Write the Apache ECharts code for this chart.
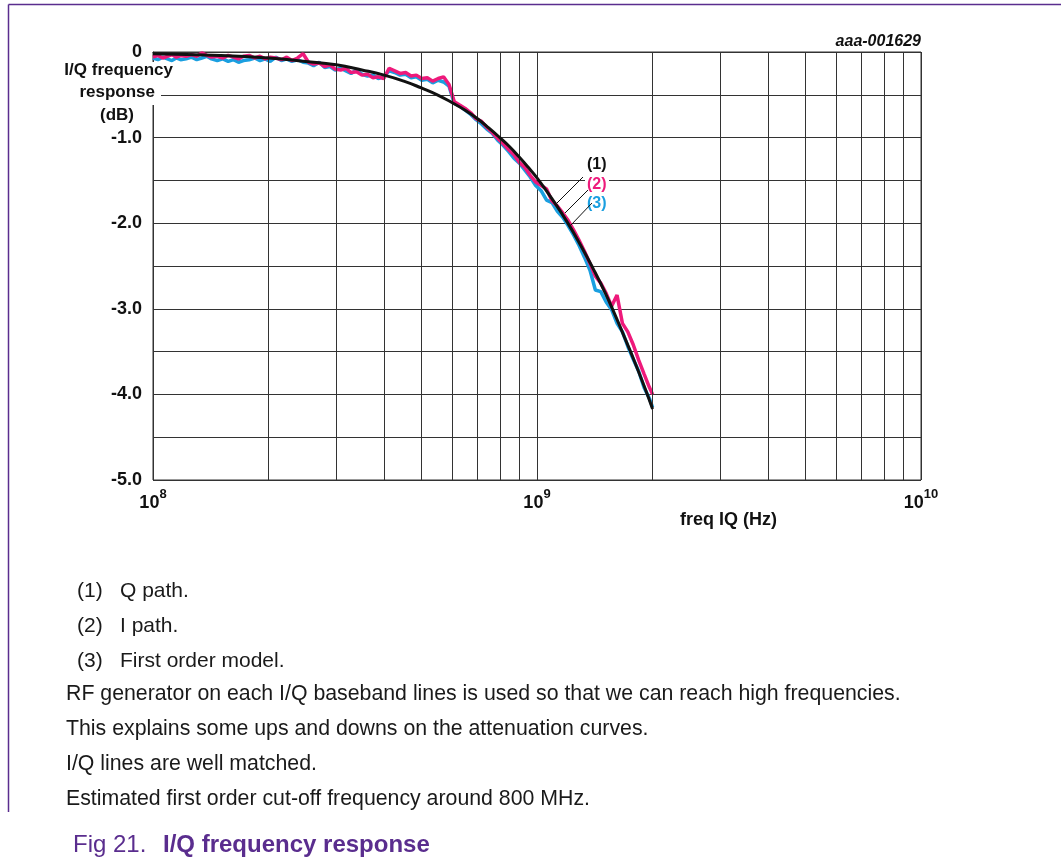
<!DOCTYPE html>
<html><head><meta charset="utf-8">
<script src="https://cdn.jsdelivr.net/npm/echarts@6/dist/echarts.min.js"></script>
<style>html,body{margin:0;padding:0;background:#fff}#c{width:1061px;height:864px}</style>
</head><body><div id="c"></div>
<script>
// measured traces: frequency (MHz) shared by both noisy traces
const freqMHz = [100,103,106,109,112,115,118, 122,126,130,134,138,142, 147,152,157,162,167,172, 178,184,190,196,202,
  209,216,223,230,238,246, 254,262,271,280,289,298, 308,318,328,339,350,362,374,386,399,
  412,426,440,455,470,485,501,518,535,553,571,590,
  609,629,650,672,694,717,740,765,790,816,843,871,900,930,960,992,1025,1059,1094,1130,1167,1206,1246,1287,1330,1374,1419,1466,1514,1564,1616,1669,1724,1781,1840,1900,1963,2000];
const pinkDb = [-0.06,-0.04,-0.07,-0.05,-0.03,-0.06,-0.04, -0.05,-0.03,-0.05,-0.01,-0.04,-0.06, -0.05,-0.07,-0.04,-0.06,-0.08,-0.05,
  -0.04,-0.07,-0.05,-0.08,-0.06, -0.07,-0.09,-0.06,-0.10,-0.07,-0.02, -0.12,-0.14,-0.13,-0.17,-0.15,-0.20,
  -0.21,-0.19,-0.24,-0.23,-0.27,-0.26,-0.30,-0.29,-0.31,
  -0.19,-0.22,-0.25,-0.24,-0.28,-0.27,-0.31,-0.30,-0.34,-0.31,-0.29,-0.38,
  -0.58,-0.62,-0.66,-0.71,-0.78,-0.81,-0.88,-0.94,-1.01,-1.07,-1.14,-1.20,-1.29,-1.35,-1.44,-1.52,-1.56,-1.60,-1.74,-1.80,-1.88,-1.97,-2.08,-2.20,-2.33,-2.47,-2.62,-2.70,-2.82,-2.97,-2.84,-3.17,-3.27,-3.42,-3.60,-3.76,-3.92,-4.00];
const blueDb = [-0.07,-0.09,-0.06,-0.08,-0.10,-0.07,-0.09, -0.08,-0.06,-0.09,-0.07,-0.05,-0.08, -0.10,-0.08,-0.11,-0.09,-0.12,-0.10,
  -0.09,-0.07,-0.10,-0.08,-0.11, -0.06,-0.10,-0.08,-0.11,-0.09,-0.12, -0.13,-0.16,-0.12,-0.18,-0.17,-0.21,
  -0.19,-0.22,-0.25,-0.21,-0.26,-0.28,-0.27,-0.31,-0.29,
  -0.22,-0.24,-0.27,-0.26,-0.30,-0.29,-0.33,-0.32,-0.36,-0.33,-0.35,-0.40,
  -0.60,-0.63,-0.68,-0.73,-0.79,-0.84,-0.90,-0.95,-1.03,-1.09,-1.16,-1.24,-1.30,-1.38,-1.46,-1.56,-1.62,-1.73,-1.76,-1.86,-1.93,-2.03,-2.14,-2.26,-2.40,-2.55,-2.78,-2.80,-2.92,-3.01,-3.17,-3.27,-3.44,-3.59,-3.73,-3.92,-4.05,-4.15];
// smooth trace
const smoothFreqMHz = [100,150,200,250,300,350,400,450,500,550,600,650,700,750,800,850,900,950,1000,1100,1200,1300,1400,1500,1600,1700,1800,1900,2000];
const smoothDb = [-0.02,-0.04,-0.07,-0.11,-0.15,-0.21,-0.27,-0.34,-0.42,-0.50,-0.59,-0.68,-0.78,-0.89,-1.00,-1.11,-1.23,-1.35,-1.47,-1.73,-1.99,-2.26,-2.53,-2.80,-3.08,-3.36,-3.63,-3.90,-4.17];
// vertical grid lines between decades (MHz)
const minorGridMHz = [200,300,400,500,600,700,800,900,2000,3000,4000,5000,6000,7000,8000,9000];
const labelTexts = ['(1)','(2)','(3)'];
const notes = ['Q path.','I path.','First order model.'];
const paragraphs = ['RF generator on each I/Q baseband lines is used so that we can reach high frequencies.',
  'This explains some ups and downs on the attenuation curves.',
  'I/Q lines are well matched.',
  'Estimated first order cut-off frequency around 800 MHz.'];

const FF = '"Liberation Sans", Arial, Helvetica, sans-serif';
const toHz = m => m * 1e6;
const pinkData = freqMHz.map((f,i)=>[toHz(f), pinkDb[i]]);
const blueData = freqMHz.map((f,i)=>[toHz(f), blueDb[i]]);
const smoothData = smoothFreqMHz.map((f,i)=>[toHz(f), smoothDb[i]]);

const PINK = '#ee1a7b', BLUE = '#1a9fe0', PURPLE = '#5a2d8e';
const chart = echarts.init(document.getElementById('c'), null, {renderer:'canvas'});

const g = [];
// frame
g.push({type:'line', shape:{x1:8.5,y1:4.5,x2:1061,y2:4.5}, style:{stroke:PURPLE, lineWidth:1.5}});
g.push({type:'line', shape:{x1:8.5,y1:4.5,x2:8.5,y2:812}, style:{stroke:PURPLE, lineWidth:1.5}});
// white mask behind y-axis title
g.push({type:'rect', z:1, shape:{x:60,y:62,width:116,height:19}, style:{fill:'#fff'}});
g.push({type:'rect', z:1, shape:{x:76,y:81,width:85,height:24}, style:{fill:'#fff'}});
g.push({type:'text', z:5, style:{text:'I/Q frequency', x:173, y:70, align:'right', verticalAlign:'middle', font:'bold 17px '+FF, fill:'#111'}});
g.push({type:'text', z:5, style:{text:'response', x:155, y:92, align:'right', verticalAlign:'middle', font:'bold 17px '+FF, fill:'#111'}});
g.push({type:'text', z:5, style:{text:'(dB)', x:117, y:115, align:'center', verticalAlign:'middle', font:'bold 17px '+FF, fill:'#111'}});
g.push({type:'text', z:5, style:{text:'aaa-001629', x:921, y:42, align:'right', verticalAlign:'middle', font:'italic bold 16px '+FF, fill:'#111'}});
g.push({type:'text', z:5, style:{text:'freq IQ (Hz)', x:680, y:520, align:'left', verticalAlign:'middle', font:'bold 18px '+FF, fill:'#111'}});
// curve labels
const labColors = ['#111', PINK, BLUE];
const labY = [165, 185, 204];
const leader = [[583,177,557,203],[588,190,565,213],[592,203,571,225]];
labelTexts.forEach((t,i)=>{
  g.push({type:'rect', z:1, shape:{x:585,y:labY[i]-8,width:24,height:17}, style:{fill:'#fff'}});
  g.push({type:'text', z:5, style:{text:t, x:587, y:labY[i], align:'left', verticalAlign:'middle', font:'bold 16px '+FF, fill:labColors[i]}});
  const l = leader[i];
  g.push({type:'line', z:5, shape:{x1:l[0],y1:l[1],x2:l[2],y2:l[3]}, style:{stroke:'#111', lineWidth:1}});
});
// notes
const noteY = [591, 626, 661];
notes.forEach((t,i)=>{
  g.push({type:'text', style:{text:labelTexts[i], x:77, y:noteY[i], verticalAlign:'middle', font:'21px '+FF, fill:'#1a1a1a'}});
  g.push({type:'text', style:{text:t, x:120, y:noteY[i], verticalAlign:'middle', font:'21px '+FF, fill:'#1a1a1a'}});
});
const paraY = [694, 729, 764, 799];
paragraphs.forEach((t,i)=>{
  g.push({type:'text', style:{text:t, x:66, y:paraY[i], verticalAlign:'middle', font:'21.3px '+FF, fill:'#1a1a1a'}});
});
g.push({type:'text', style:{text:'Fig 21.', x:73, y:845, verticalAlign:'middle', font:'24px '+FF, fill:PURPLE}});
g.push({type:'text', style:{text:'I/Q frequency response', x:163, y:845, verticalAlign:'middle', font:'bold 24px '+FF, fill:PURPLE}});

const option = {
  animation:false,
  backgroundColor:'#fff',
  grid:{left:153, top:52, width:768, height:428, show:true, borderColor:'#333', borderWidth:1},
  xAxis:{type:'log', logBase:10, min:1e8, max:1e10, splitNumber:2,
    axisLine:{show:true, lineStyle:{color:'#333', width:1}}, axisTick:{show:false},
    splitLine:{show:true, lineStyle:{color:'#333', width:1}},
    axisLabel:{margin:8, formatter: v => '{b|10}{s|' + Math.round(Math.log10(v)) + '}',
      rich:{b:{fontFamily:FF, fontSize:18, fontWeight:'bold', color:'#111', lineHeight:24, verticalAlign:'bottom'},
            s:{fontFamily:FF, fontSize:13, fontWeight:'bold', color:'#111', lineHeight:14, verticalAlign:'top'}}}},
  yAxis:{type:'value', min:-5, max:0, interval:0.5,
    axisLine:{show:true, lineStyle:{color:'#333', width:1}}, axisTick:{show:false},
    splitLine:{show:true, lineStyle:{color:'#333', width:1}},
    axisLabel:{margin:11, fontFamily:FF, fontSize:18, fontWeight:'bold', color:'#111',
      formatter: v => Math.abs(v - Math.round(v)) < 1e-9 ? (v === 0 ? '0' : v.toFixed(1)) : ''}},
  series:[
    {type:'line', name:'(3)', data:blueData, showSymbol:false, lineStyle:{color:BLUE, width:3.5}, z:3,
      markLine:{silent:true, symbol:['none','none'], label:{show:false}, animation:false,
        lineStyle:{color:'#333', width:1, type:'solid'},
        data: minorGridMHz.map(m=>({xAxis: toHz(m)}))}},
    {type:'line', name:'(2)', data:pinkData, showSymbol:false, lineStyle:{color:PINK, width:3.5}, z:4},
    {type:'line', name:'(1)', data:smoothData, showSymbol:false, smooth:true, lineStyle:{color:'#111', width:3}, z:5}
  ],
  graphic:{elements:g}
};
chart.setOption(option);
</script></body></html>
